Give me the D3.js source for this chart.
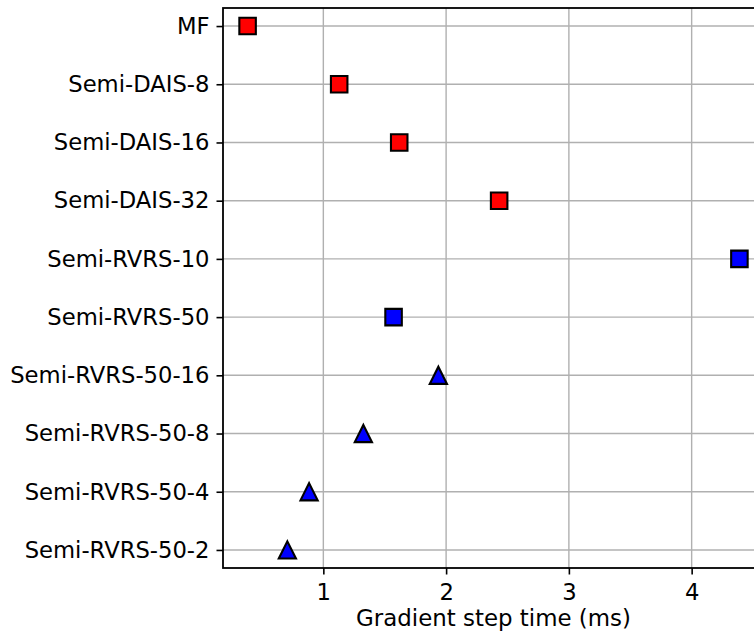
<!DOCTYPE html>
<html>
<head>
<meta charset="utf-8">
<script src="https://cdn.jsdelivr.net/npm/d3@7"></script>
<style>
  html, body { margin: 0; padding: 0; background: #fff; overflow: hidden; }
  svg { display: block; font-family: "DejaVu Sans", sans-serif; }
</style>
</head>
<body>
<svg id="chart" width="754" height="632"></svg>
<script>
// Methods listed top to bottom
const methods = ["MF", "Semi-DAIS-8", "Semi-DAIS-16", "Semi-DAIS-32", "Semi-RVRS-10",
  "Semi-RVRS-50", "Semi-RVRS-50-16", "Semi-RVRS-50-8", "Semi-RVRS-50-4", "Semi-RVRS-50-2"];
// Gradient step time in milliseconds
const stepTimes = [0.383, 1.129, 1.618, 2.432, 4.389, 1.572, 1.937, 1.326, 0.884, 0.707];
const colors = ["red", "red", "red", "red", "blue", "blue", "blue", "blue", "blue", "blue"];
const shapes = ["square", "square", "square", "square", "square", "square",
  "triangle", "triangle", "triangle", "triangle"];
const xTicks = [1, 2, 3, 4];
const xLabel = "Gradient step time (ms)";

const svg = d3.select("#chart");
const plotLeft = 223, plotRight = 764, plotTop = 8, plotBottom = 568;
const fontSize = "22.7px";

// x range padded by 5% on each side of the data
const lo = d3.min(stepTimes), hi = d3.max(stepTimes), pad = (hi - lo) * 0.05;
const x = d3.scaleLinear().domain([lo - pad, hi + pad]).range([plotLeft, plotRight]);
const y = d3.scalePoint().domain(methods).range([plotTop, plotBottom]).padding(0.31);

const gridColor = "#b0b0b0";

// grid lines
svg.append("g").selectAll("line").data(xTicks).join("line")
  .attr("x1", d => x(d)).attr("x2", d => x(d))
  .attr("y1", plotTop).attr("y2", plotBottom)
  .attr("stroke", gridColor).attr("stroke-width", 1.4);
svg.append("g").selectAll("line").data(methods).join("line")
  .attr("x1", plotLeft).attr("x2", plotRight)
  .attr("y1", d => y(d)).attr("y2", d => y(d))
  .attr("stroke", gridColor).attr("stroke-width", 1.4);

// markers
const sq = 16.5, tri = 8.6;
svg.append("g").selectAll("path").data(methods).join("path")
  .attr("transform", (d, i) => `translate(${x(stepTimes[i])},${y(d)})`)
  .attr("d", (d, i) => shapes[i] === "square"
    ? `M${-sq/2},${-sq/2}H${sq/2}V${sq/2}H${-sq/2}Z`
    : `M0,${-tri}L${tri},${tri}L${-tri},${tri}Z`)
  .attr("fill", (d, i) => colors[i])
  .attr("stroke", "#000")
  .attr("stroke-width", 2.1)
  .attr("stroke-linejoin", "miter");

// axes
const xAxis = svg.append("g").attr("transform", `translate(0,${plotBottom})`)
  .call(d3.axisBottom(x).tickValues(xTicks).tickFormat(d3.format("d")).tickSize(6.5).tickPadding(9.5));
const yAxis = svg.append("g").attr("transform", `translate(${plotLeft},0)`)
  .call(d3.axisLeft(y).tickSize(6.5).tickPadding(7));

[xAxis, yAxis].forEach(g => {
  g.select(".domain").remove();
  g.selectAll(".tick line").attr("stroke", "#000").attr("stroke-width", 1.6);
  g.selectAll(".tick text").attr("fill", "#000")
    .style("font-family", "'DejaVu Sans', sans-serif").style("font-size", fontSize);
});

// spines
svg.append("rect")
  .attr("x", plotLeft).attr("y", plotTop)
  .attr("width", plotRight - plotLeft).attr("height", plotBottom - plotTop)
  .attr("fill", "none").attr("stroke", "#000").attr("stroke-width", 1.8);

svg.append("text")
  .attr("x", (plotLeft + plotRight) / 2).attr("y", 626)
  .attr("text-anchor", "middle")
  .style("font-size", "22.9px").attr("fill", "#000")
  .text(xLabel);
</script>
</body>
</html>
